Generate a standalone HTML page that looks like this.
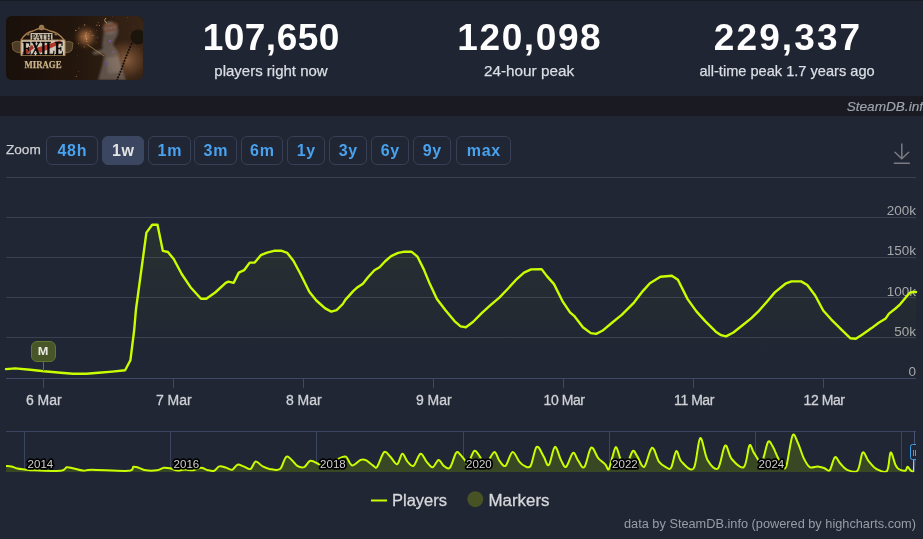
<!DOCTYPE html>
<html><head><meta charset="utf-8">
<style>
*{margin:0;padding:0;box-sizing:border-box}
html,body{width:923px;height:539px;overflow:hidden;background:#202634;font-family:"Liberation Sans",sans-serif}
#top{position:absolute;left:0;top:0;width:923px;height:1px;background:#191c24}
#hdr{position:absolute;left:0;top:1px;width:923px;height:95px;background:#202634}
#img{position:absolute;left:6px;top:16px;width:137px;height:64px;border-radius:6px;overflow:hidden;background:#1a120c}
.stat{position:absolute;top:0;width:258px;text-align:center;color:#fff}
.num{position:absolute;left:0;width:258px;top:18px;font-size:37px;font-weight:bold;line-height:40px;color:#fff}
.lbl{position:absolute;left:0;width:258px;top:62px;font-size:15px;line-height:18px;color:#dcdfe5;-webkit-text-stroke:0.25px #dcdfe5}
#band{position:absolute;left:0;top:96px;width:923px;height:20px;background:#1a1b23}
#sdb{position:absolute;left:846.7px;top:97.5px;font-size:13.6px;font-style:italic;color:#9ea4ae;-webkit-text-stroke:0.2px #9ea4ae;white-space:nowrap;line-height:18px}
#zoom{position:absolute;left:6px;top:141px;font-size:13.6px;color:#d0d2d6;line-height:18px;-webkit-text-stroke:0.25px #d0d2d6}
.btn{position:absolute;top:136px;height:29px;border:1px solid #394156;border-radius:6px;color:#4aa3ee;font-weight:bold;font-size:16px;line-height:28px;text-align:center;letter-spacing:0.7px;text-indent:0.7px}
.btn.sel{background:#3c4762;border-color:#3c4762;color:#e4e4e4}
svg{position:absolute;left:0;top:0}
</style></head><body><div id="wrap" style="position:absolute;left:0;top:0;width:923px;height:539px;will-change:transform;opacity:0.999">
<div id="top"></div>
<div id="hdr"></div>
<div id="img"><svg width="137" height="64" viewBox="0 0 137 64" style="position:absolute;left:0;top:0">
<defs>
<radialGradient id="gl1"><stop offset="0" stop-color="#c08050"/><stop offset="0.45" stop-color="#7a4e2e" stop-opacity="0.85"/><stop offset="1" stop-color="#2a1a10" stop-opacity="0"/></radialGradient>
<radialGradient id="gl2"><stop offset="0" stop-color="#8c6040"/><stop offset="0.6" stop-color="#5a3a24" stop-opacity="0.7"/><stop offset="1" stop-color="#2a1a10" stop-opacity="0"/></radialGradient>
<linearGradient id="bgg" x1="0" y1="0" x2="1" y2="0"><stop offset="0" stop-color="#1a110b"/><stop offset="0.5" stop-color="#24170e"/><stop offset="1" stop-color="#3a2618"/></linearGradient>
<filter id="bl" x="-50%" y="-50%" width="200%" height="200%"><feGaussianBlur stdDeviation="1"/></filter>
<filter id="bl2" x="-50%" y="-50%" width="200%" height="200%"><feGaussianBlur stdDeviation="0.45"/></filter>
</defs>
<rect width="137" height="64" fill="url(#bgg)"/>
<ellipse cx="120" cy="44" rx="26" ry="24" fill="url(#gl2)"/>
<ellipse cx="80" cy="21" rx="14" ry="14" fill="url(#gl1)" opacity="0.9"/>
<circle cx="81.6" cy="28.5" r="0.45" fill="#e0a060" opacity="0.70"/><circle cx="79.4" cy="19.4" r="0.31" fill="#e0a060" opacity="0.82"/><circle cx="80.7" cy="25.4" r="0.70" fill="#e0a060" opacity="0.64"/><circle cx="84.5" cy="15.2" r="0.56" fill="#e0a060" opacity="0.48"/><circle cx="73.0" cy="11.9" r="0.51" fill="#e0a060" opacity="0.77"/><circle cx="80.0" cy="19.1" r="0.60" fill="#e0a060" opacity="0.70"/><circle cx="80.5" cy="22.4" r="0.65" fill="#e0a060" opacity="0.64"/><circle cx="78.6" cy="8.9" r="0.59" fill="#e0a060" opacity="0.86"/><circle cx="72.5" cy="27.6" r="0.48" fill="#e0a060" opacity="0.87"/><circle cx="83.0" cy="19.1" r="0.35" fill="#e0a060" opacity="0.51"/><circle cx="87.3" cy="19.6" r="0.55" fill="#e0a060" opacity="0.55"/><circle cx="75.1" cy="20.7" r="0.44" fill="#e0a060" opacity="0.69"/><circle cx="69.8" cy="14.4" r="0.57" fill="#e0a060" opacity="0.86"/><circle cx="92.4" cy="6.5" r="0.57" fill="#e0a060" opacity="0.48"/><circle cx="90.9" cy="9.1" r="0.66" fill="#e0a060" opacity="0.68"/><circle cx="80.1" cy="17.0" r="0.63" fill="#e0a060" opacity="0.69"/><circle cx="80.5" cy="23.1" r="0.64" fill="#e0a060" opacity="0.89"/><circle cx="90.2" cy="26.7" r="0.46" fill="#e0a060" opacity="0.48"/><circle cx="78.2" cy="30.9" r="0.65" fill="#e0a060" opacity="0.42"/><circle cx="79.6" cy="19.8" r="0.59" fill="#e0a060" opacity="0.57"/><circle cx="93.4" cy="9.5" r="0.50" fill="#e0a060" opacity="0.90"/><circle cx="80.1" cy="23.2" r="0.54" fill="#e0a060" opacity="0.42"/><circle cx="83.2" cy="26.1" r="0.48" fill="#c08a5a" opacity="0.36"/><circle cx="72.8" cy="55.5" r="0.39" fill="#c08a5a" opacity="0.68"/><circle cx="130.1" cy="24.2" r="0.44" fill="#c08a5a" opacity="0.51"/><circle cx="113.1" cy="38.1" r="0.47" fill="#c08a5a" opacity="0.55"/><circle cx="133.0" cy="32.4" r="0.43" fill="#c08a5a" opacity="0.59"/><circle cx="85.9" cy="19.3" r="0.59" fill="#c08a5a" opacity="0.51"/><circle cx="106.7" cy="0.7" r="0.42" fill="#c08a5a" opacity="0.53"/><circle cx="71.3" cy="39.4" r="0.49" fill="#c08a5a" opacity="0.32"/><circle cx="112.0" cy="29.8" r="0.50" fill="#c08a5a" opacity="0.44"/><circle cx="117.4" cy="47.2" r="0.31" fill="#c08a5a" opacity="0.32"/><circle cx="115.3" cy="61.7" r="0.38" fill="#c08a5a" opacity="0.48"/><circle cx="109.7" cy="20.5" r="0.41" fill="#c08a5a" opacity="0.43"/><circle cx="94.7" cy="38.1" r="0.39" fill="#c08a5a" opacity="0.45"/><circle cx="121.7" cy="1.7" r="0.47" fill="#c08a5a" opacity="0.59"/><circle cx="90.8" cy="14.2" r="0.54" fill="#c08a5a" opacity="0.40"/><circle cx="82.6" cy="27.9" r="0.51" fill="#c08a5a" opacity="0.34"/><circle cx="91.6" cy="21.4" r="0.55" fill="#c08a5a" opacity="0.48"/><circle cx="127.3" cy="10.8" r="0.40" fill="#c08a5a" opacity="0.56"/><circle cx="129.3" cy="28.9" r="0.37" fill="#c08a5a" opacity="0.35"/><circle cx="105.5" cy="12.2" r="0.54" fill="#c08a5a" opacity="0.64"/><circle cx="82.3" cy="17.8" r="0.54" fill="#c08a5a" opacity="0.56"/><circle cx="124.0" cy="22.1" r="0.34" fill="#c08a5a" opacity="0.42"/><circle cx="123.2" cy="17.4" r="0.40" fill="#c08a5a" opacity="0.47"/><circle cx="98.1" cy="26.2" r="0.58" fill="#c08a5a" opacity="0.36"/><circle cx="70.3" cy="60.4" r="0.56" fill="#c08a5a" opacity="0.69"/>
<g filter="url(#bl)" opacity="0.62">
<path d="M98 14 Q104 6 111 10 Q114 16 110 22 L107 28 L112 36 L116 52 L120 64 L92 64 L96 50 L98 40 L96 30 Z" fill="#7e746e"/>
<ellipse cx="104" cy="12" rx="7" ry="6.5" fill="#a0968e"/>
<path d="M97 9 L111 7 L112 9.5 L97 12 Z M98 14 L111 12 L110 14.5 L98 16.5 Z" fill="#a85a38"/>
<path d="M100 42 L112 40 L116 56 L102 58 Z" fill="#9a9088"/>
<path d="M98 33 L86 36 L88 39 L100 37 Z" fill="#8a7e76"/>
</g>
<path d="M82 29 L98 40" stroke="#a08050" stroke-width="1" opacity="0.8"/>
<path d="M100 2 Q97 5 101 7" stroke="#c89a50" stroke-width="1" fill="none"/>
<circle cx="132" cy="21" r="7.5" fill="#1c130e" filter="url(#bl2)"/>
<path d="M126 27 Q120 40 116 52 L111 64" stroke="#17100c" stroke-width="1.8" fill="none" stroke-dasharray="2 1"/>
<circle cx="104" cy="25" r="1" fill="#8050c0"/><circle cx="101" cy="48" r="1.2" fill="#7048b0"/><circle cx="107" cy="36" r="0.8" fill="#8a5ac8"/>
<g filter="url(#bl2)">
<path d="M6 27 Q10 24 15 26 L15 37 Q10 37 7 34 Z M67 27 Q63 24 59 26 L59 37 Q64 37 66 34 Z" fill="#4e3c28" stroke="#9a7a50" stroke-width="0.6"/>
<path d="M15 24 Q20 16 27 15 Q35 10 44 15 Q52 16 58 24" fill="none" stroke="#a88050" stroke-width="1.3"/>
<circle cx="35.6" cy="11.5" r="2.4" fill="#9a7448" stroke="#c09a60" stroke-width="0.6"/><circle cx="22" cy="18" r="1.6" fill="#8a6a44"/><circle cx="50" cy="18" r="1.6" fill="#8a6a44"/>
<rect x="24.5" y="17" width="22" height="7.5" fill="#c8bea8"/>
<rect x="15" y="24" width="44" height="15.5" fill="#d2c8b8" stroke="#b08a58" stroke-width="0.9"/>
<path d="M30 32 L54 24.5 L56 27 L34 37 Z" fill="#b02a1c" opacity="0.9"/>
<path d="M16 37 L26 29 L28 32 L20 39 Z" fill="#a02418" opacity="0.9"/>
</g>
<text x="35.6" y="24" font-family="Liberation Serif" font-weight="bold" font-size="8" fill="#120d0a" text-anchor="middle" textLength="20" lengthAdjust="spacingAndGlyphs">PATH</text>
<text x="37" y="38.8" font-family="Liberation Serif" font-weight="bold" font-size="18" fill="#0c0908" stroke="#0c0908" stroke-width="0.5" text-anchor="middle" textLength="41" lengthAdjust="spacingAndGlyphs">EXILE</text>
<text x="37" y="52.3" font-family="Liberation Serif" font-weight="bold" font-size="10.5" fill="#cdb68a" stroke="#cdb68a" stroke-width="0.25" text-anchor="middle" textLength="37" lengthAdjust="spacingAndGlyphs">MIRAGE</text>
</svg></div>
<div class="stat" style="left:142px"><div class="num" style="letter-spacing:0.5px;text-indent:0.5px">107,650</div><div class="lbl">players right now</div></div>
<div class="stat" style="left:400px"><div class="num" style="letter-spacing:1.6px;text-indent:1.6px">120,098</div><div class="lbl" style="font-size:15.3px">24-hour peak</div></div>
<div class="stat" style="left:658px"><div class="num" style="letter-spacing:2.1px;text-indent:2.1px">229,337</div><div class="lbl" style="font-size:14.6px">all-time peak 1.7 years ago</div></div>
<div id="band"></div>
<div id="sdb">SteamDB.info</div>
<div id="zoom">Zoom</div>
<div class="btn" style="left:46px;width:52px">48h</div>
<div class="btn sel" style="left:102px;width:42px">1w</div>
<div class="btn" style="left:148px;width:43px">1m</div>
<div class="btn" style="left:194px;width:43px">3m</div>
<div class="btn" style="left:241px;width:42px">6m</div>
<div class="btn" style="left:287px;width:38px">1y</div>
<div class="btn" style="left:329px;width:38px">3y</div>
<div class="btn" style="left:371px;width:38px">6y</div>
<div class="btn" style="left:413px;width:38px">9y</div>
<div class="btn" style="left:456px;width:55px">max</div>
<svg width="923" height="539" viewBox="0 0 923 539">
<!-- download icon -->
<g stroke="#7c7d82" stroke-width="1.5" fill="none" stroke-linecap="round"><path d="M901.8 144V158.3M895 152.2L901.8 158.8L908.6 152.2"/><path d="M894.4 163.2H909.4"/></g>
<!-- grid -->
<g stroke="#3b4150" stroke-width="1">
<path d="M6 177.5H916M6 217.5H916M6 257.5H916M6 297.5H916M6 337.5H916"/>
</g>
<path d="M6 378.5H916" stroke="#3e4a66" stroke-width="1"/>
<g stroke="#414a62" stroke-width="1"><path d="M43.5 379V388M173.5 379V388M303.5 379V388M433.5 379V388M563.5 379V388M693.5 379V388M823.5 379V388"/></g>
<g font-family="Liberation Sans" font-size="13.5" fill="#a7a8ac" text-anchor="end">
<text x="916" y="296">100k</text><text x="916" y="215.1">200k</text><text x="916" y="255.1">150k</text><text x="916" y="336">50k</text><text x="916" y="376">0</text>
</g>
<g font-family="Liberation Sans" font-size="14" fill="#d0d2d6" stroke="#d0d2d6" stroke-width="0.3" text-anchor="middle">
<text x="43.8" y="405">6 Mar</text><text x="173.8" y="405">7 Mar</text><text x="303.8" y="405">8 Mar</text><text x="433.8" y="405">9 Mar</text><text x="564" y="405" letter-spacing="-0.45">10 Mar</text><text x="694" y="405" letter-spacing="-0.45">11 Mar</text><text x="824" y="405" letter-spacing="-0.45">12 Mar</text>
</g>
<defs><linearGradient id="mg" x1="0" y1="0" x2="0" y2="1"><stop offset="0" stop-color="#caff00" stop-opacity="0.058"/><stop offset="1" stop-color="#caff00" stop-opacity="0"/></linearGradient>
<clipPath id="hclip"><rect x="0" y="0" width="916" height="539"/></clipPath><clipPath id="navclip"><rect x="6" y="431" width="910" height="41.2"/></clipPath></defs>
<path d="M6.0 369.1 L15.2 368.4 L30.3 369.7 L44.0 371.3 L60.7 372.8 L72.8 373.7 L86.5 373.7 L98.6 372.8 L112.2 371.6 L125.1 370.2 L130.4 360.3 L134.2 330.0 L135.9 310.0 L146.4 232.6 L152.2 224.8 L157.5 224.8 L162.8 250.8 L167.9 252.0 L173.7 259.0 L181.7 274.0 L190.5 287.2 L201.0 298.7 L206.3 298.7 L215.2 292.5 L225.7 282.8 L228.4 281.6 L233.7 282.8 L238.8 272.6 L244.1 270.2 L249.7 262.6 L254.7 262.6 L260.8 255.2 L267.0 252.6 L274.0 250.8 L281.1 250.6 L287.3 252.9 L293.4 260.8 L300.5 274.0 L309.3 291.7 L316.3 300.5 L325.2 308.4 L331.3 311.6 L336.6 310.2 L342.8 304.0 L345.3 299.9 L353.2 291.1 L357.6 287.2 L362.9 283.7 L368.2 277.0 L374.4 270.3 L379.6 267.3 L384.9 261.5 L391.1 256.2 L398.1 252.9 L403.4 251.8 L411.4 251.6 L417.5 256.7 L423.7 269.1 L429.9 284.1 L436.9 299.0 L445.7 310.5 L454.5 321.1 L460.6 326.4 L465.9 327.2 L472.9 322.0 L481.7 313.1 L490.5 305.2 L499.3 297.6 L508.1 288.5 L517.0 278.8 L524.0 272.6 L531.1 269.4 L541.6 269.1 L546.9 276.1 L554.0 284.1 L562.8 301.7 L570.0 312.3 L574.1 315.8 L582.9 327.2 L590.8 333.1 L596.1 333.9 L602.3 330.8 L612.9 322.0 L621.7 314.9 L634.0 302.6 L642.8 291.1 L649.9 283.2 L660.4 276.7 L671.9 275.8 L677.9 279.7 L687.6 299.1 L696.4 311.4 L705.2 321.1 L715.8 331.7 L721.1 335.2 L726.0 336.4 L733.4 332.5 L742.2 325.5 L751.1 318.4 L758.1 311.7 L766.9 301.7 L774.8 292.4 L785.4 283.7 L791.5 281.4 L801.1 281.4 L807.3 285.0 L815.2 295.5 L823.2 310.5 L831.1 319.3 L841.7 329.9 L850.5 338.3 L855.8 338.7 L862.8 334.3 L871.6 328.1 L878.7 322.8 L885.7 318.4 L889.0 313.6 L895.5 308.5 L900.1 304.3 L904.7 298.8 L909.8 292.7 L913.1 292.0 L916.0 292.0 L916 378 L6 378 Z" fill="url(#mg)"/>
<path d="M6.0 369.1 L15.2 368.4 L30.3 369.7 L44.0 371.3 L60.7 372.8 L72.8 373.7 L86.5 373.7 L98.6 372.8 L112.2 371.6 L125.1 370.2 L130.4 360.3 L134.2 330.0 L135.9 310.0 L146.4 232.6 L152.2 224.8 L157.5 224.8 L162.8 250.8 L167.9 252.0 L173.7 259.0 L181.7 274.0 L190.5 287.2 L201.0 298.7 L206.3 298.7 L215.2 292.5 L225.7 282.8 L228.4 281.6 L233.7 282.8 L238.8 272.6 L244.1 270.2 L249.7 262.6 L254.7 262.6 L260.8 255.2 L267.0 252.6 L274.0 250.8 L281.1 250.6 L287.3 252.9 L293.4 260.8 L300.5 274.0 L309.3 291.7 L316.3 300.5 L325.2 308.4 L331.3 311.6 L336.6 310.2 L342.8 304.0 L345.3 299.9 L353.2 291.1 L357.6 287.2 L362.9 283.7 L368.2 277.0 L374.4 270.3 L379.6 267.3 L384.9 261.5 L391.1 256.2 L398.1 252.9 L403.4 251.8 L411.4 251.6 L417.5 256.7 L423.7 269.1 L429.9 284.1 L436.9 299.0 L445.7 310.5 L454.5 321.1 L460.6 326.4 L465.9 327.2 L472.9 322.0 L481.7 313.1 L490.5 305.2 L499.3 297.6 L508.1 288.5 L517.0 278.8 L524.0 272.6 L531.1 269.4 L541.6 269.1 L546.9 276.1 L554.0 284.1 L562.8 301.7 L570.0 312.3 L574.1 315.8 L582.9 327.2 L590.8 333.1 L596.1 333.9 L602.3 330.8 L612.9 322.0 L621.7 314.9 L634.0 302.6 L642.8 291.1 L649.9 283.2 L660.4 276.7 L671.9 275.8 L677.9 279.7 L687.6 299.1 L696.4 311.4 L705.2 321.1 L715.8 331.7 L721.1 335.2 L726.0 336.4 L733.4 332.5 L742.2 325.5 L751.1 318.4 L758.1 311.7 L766.9 301.7 L774.8 292.4 L785.4 283.7 L791.5 281.4 L801.1 281.4 L807.3 285.0 L815.2 295.5 L823.2 310.5 L831.1 319.3 L841.7 329.9 L850.5 338.3 L855.8 338.7 L862.8 334.3 L871.6 328.1 L878.7 322.8 L885.7 318.4 L889.0 313.6 L895.5 308.5 L900.1 304.3 L904.7 298.8 L909.8 292.7 L913.1 292.0 L916.0 292.0" fill="none" stroke="#caff00" stroke-width="2.4" stroke-linejoin="round" stroke-linecap="round"/>
<!-- marker -->
<path d="M43.5 362V371" stroke="#627a26" stroke-width="1"/>
<rect x="31.5" y="341.5" width="24" height="20" rx="5.5" fill="#49562a" stroke="#62782a" stroke-width="1"/>
<text x="37.8" y="355.3" font-family="Liberation Sans" font-weight="bold" font-size="11.2" fill="#eaebe4" textLength="10.6" lengthAdjust="spacingAndGlyphs">M</text>
<!-- navigator -->
<path d="M6 431.5H916" stroke="#3c4660" stroke-width="1"/>
<g stroke="#3c4660" stroke-width="1"><path d="M24.5 431V472M170.5 431V472M316.5 431V472M463.5 431V472M609.5 431V472M755.5 431V472M901.5 431V472"/></g>
<g clip-path="url(#navclip)">
<path d="M6.0 465.9 C6.9 466.0 9.4 466.0 11.3 466.4 C13.2 466.8 15.1 468.0 17.3 468.5 C19.5 469.0 21.4 469.1 24.3 469.4 C27.2 469.7 28.6 470.1 34.7 470.3 C40.8 470.5 55.4 471.3 60.7 470.8 C66.0 470.3 64.7 467.7 66.7 467.3 C68.7 466.9 70.0 467.6 72.8 468.2 C75.5 468.8 80.0 470.4 83.2 470.6 C86.4 470.9 84.4 469.7 91.9 469.7 C99.4 469.7 121.3 471.3 128.2 470.8 C135.1 470.3 131.7 467.3 133.4 466.8 C135.1 466.3 136.6 467.1 138.6 467.7 C140.6 468.3 142.5 469.9 145.6 470.3 C148.7 470.7 153.8 470.7 156.9 470.3 C160.0 469.9 161.6 468.0 163.9 467.7 C166.2 467.4 168.5 468.0 170.8 468.5 C173.1 469.0 175.3 470.4 177.7 470.6 C180.1 470.8 182.4 469.6 185.0 469.5 C187.6 469.4 190.6 470.6 193.3 470.3 C196.0 470.0 198.8 467.8 201.1 467.7 C203.4 467.6 205.0 469.4 207.2 469.9 C209.4 470.4 212.1 471.4 214.1 470.8 C216.1 470.2 217.3 466.9 219.3 466.4 C221.3 465.9 224.1 467.1 226.3 467.7 C228.5 468.2 230.4 470.2 232.3 469.7 C234.2 469.2 235.6 465.2 237.5 464.7 C239.4 464.1 241.4 465.7 243.6 466.4 C245.8 467.1 248.5 469.8 250.5 469.0 C252.5 468.2 253.7 462.0 255.7 461.6 C257.7 461.2 260.4 465.2 262.7 466.4 C265.0 467.6 266.7 468.5 269.6 468.9 C272.5 469.3 277.1 471.1 280.0 469.0 C282.9 466.9 284.0 456.9 286.9 456.4 C289.8 455.9 294.4 464.1 297.3 465.9 C300.2 467.7 302.0 468.0 304.2 467.1 C306.4 466.2 307.9 461.2 310.4 460.7 C312.9 460.2 316.7 463.3 319.1 464.2 C321.5 465.1 322.9 466.4 325.0 466.0 C327.1 465.6 329.8 463.2 332.0 462.0 C334.2 460.8 335.7 459.9 338.0 459.0 C340.3 458.1 343.6 455.6 345.9 456.7 C348.2 457.8 349.5 464.9 352.0 465.4 C354.5 465.9 358.4 460.8 360.7 459.9 C363.0 459.0 363.9 459.3 365.9 460.2 C367.9 461.1 370.9 464.3 372.8 465.4 C374.7 466.5 375.2 469.0 377.1 466.8 C379.0 464.6 381.9 453.8 384.1 452.1 C386.3 450.4 387.9 454.4 390.1 456.4 C392.3 458.4 395.1 464.6 397.1 464.2 C399.1 463.8 400.6 454.2 402.3 453.8 C404.0 453.4 405.6 459.6 407.5 461.6 C409.4 463.6 411.3 467.2 413.5 465.9 C415.7 464.6 418.3 454.5 420.5 453.8 C422.7 453.1 424.5 459.4 426.5 461.6 C428.5 463.9 430.6 467.6 432.6 467.3 C434.6 467.0 436.7 460.1 438.6 459.9 C440.5 459.7 441.9 464.6 443.8 465.9 C445.7 467.2 447.8 469.9 449.9 467.7 C451.9 465.5 454.4 455.1 456.1 452.9 C457.9 450.7 459.0 453.5 460.4 454.7 C461.8 455.9 463.4 458.3 464.7 459.9 C466.0 461.4 466.4 465.5 468.0 464.0 C469.6 462.5 472.2 451.9 474.3 450.8 C476.4 449.7 478.4 455.1 480.3 457.3 C482.2 459.5 483.7 464.9 486.0 464.0 C488.3 463.1 492.0 452.7 494.2 452.1 C496.4 451.6 497.5 458.4 499.4 460.7 C501.3 463.0 503.3 467.3 505.5 465.9 C507.7 464.5 510.1 452.8 512.4 452.1 C514.7 451.4 517.3 459.3 519.3 461.6 C521.3 463.9 522.6 465.2 524.5 465.9 C526.4 466.6 528.6 469.1 530.6 465.9 C532.6 462.7 534.5 448.5 536.7 446.9 C538.9 445.3 541.6 453.4 543.6 456.4 C545.6 459.4 546.9 466.7 548.8 465.1 C550.7 463.5 552.9 447.8 554.9 446.9 C556.9 446.0 559.0 456.6 560.9 459.9 C562.8 463.2 564.1 468.0 566.1 466.8 C568.1 465.6 571.0 453.9 573.0 452.9 C575.0 451.9 576.3 458.3 578.2 460.7 C580.1 463.1 582.1 469.3 584.3 467.1 C586.5 464.9 588.9 449.2 591.2 447.7 C593.5 446.2 595.9 455.4 598.2 458.1 C600.5 460.9 603.4 462.3 605.1 464.2 C606.9 466.1 607.5 470.4 608.7 469.4 C609.9 468.4 610.9 461.9 612.1 458.1 C613.3 454.4 614.6 447.0 615.9 446.9 C617.2 446.8 618.5 454.1 619.9 457.3 C621.2 460.5 622.6 465.2 624.0 466.0 C625.4 466.8 626.5 464.5 628.0 462.0 C629.5 459.5 631.4 451.7 632.9 450.8 C634.4 449.9 635.4 453.7 637.3 456.4 C639.2 459.1 641.8 468.2 644.2 466.8 C646.7 465.4 649.5 448.6 652.0 447.7 C654.5 446.8 656.6 458.4 658.9 461.6 C661.2 464.8 663.9 466.1 665.9 467.1 C667.9 468.1 669.4 470.4 671.1 467.7 C672.8 465.0 674.6 452.2 676.3 451.2 C678.0 450.2 678.6 458.7 681.5 461.6 C684.4 464.5 690.5 472.4 693.6 468.5 C696.7 464.6 697.9 439.6 700.2 438.2 C702.5 436.8 704.5 454.8 707.5 459.9 C710.5 464.9 715.0 470.9 717.9 468.5 C720.8 466.1 722.8 447.2 725.1 445.6 C727.4 444.0 728.6 455.4 731.7 459.0 C734.8 462.6 740.8 469.3 743.8 467.1 C746.8 464.9 747.8 448.1 749.4 445.6 C751.0 443.1 752.1 449.9 753.5 452.1 C754.9 454.3 756.5 456.9 757.8 459.0 C759.0 461.1 760.0 465.4 761.0 465.0 C762.0 464.6 762.7 460.3 763.9 456.4 C765.1 452.5 766.8 443.4 768.2 441.7 C769.6 440.0 770.9 443.4 772.5 446.0 C774.1 448.6 776.1 454.0 777.7 457.3 C779.3 460.6 780.5 464.6 782.0 466.0 C783.5 467.4 784.6 471.0 786.4 465.9 C788.1 460.8 790.6 439.5 792.5 435.6 C794.4 431.7 795.8 438.8 797.7 442.5 C799.6 446.2 801.7 454.0 803.7 458.1 C805.7 462.2 807.5 465.7 809.8 467.1 C812.1 468.5 815.1 466.2 817.6 466.4 C820.1 466.6 822.5 467.5 824.5 468.2 C826.5 468.9 828.0 472.1 829.7 470.3 C831.4 468.5 833.2 458.5 834.9 457.3 C836.6 456.1 838.1 461.2 840.1 463.3 C842.1 465.4 844.2 468.7 847.1 469.9 C850.0 471.1 854.9 473.5 857.5 470.6 C860.1 467.7 860.9 454.2 862.7 452.6 C864.6 451.0 866.3 458.5 868.6 461.2 C870.9 463.9 873.4 467.4 876.4 469.0 C879.4 470.6 884.5 473.8 886.9 471.0 C889.3 468.2 889.2 453.6 890.6 452.5 C892.0 451.4 894.0 461.8 895.3 464.5 C896.6 467.2 896.9 468.0 898.6 469.0 C900.3 470.0 903.8 471.1 905.3 470.7 C906.8 470.3 906.6 466.8 907.5 466.8 C908.4 466.8 909.9 470.1 910.9 470.7 C911.9 471.3 913.2 472.5 913.7 470.7 C914.2 468.9 914.1 461.8 914.2 460.0 L914.2 472 L6 472 Z" fill="#394825"/>
<path d="M6.0 465.9 C6.9 466.0 9.4 466.0 11.3 466.4 C13.2 466.8 15.1 468.0 17.3 468.5 C19.5 469.0 21.4 469.1 24.3 469.4 C27.2 469.7 28.6 470.1 34.7 470.3 C40.8 470.5 55.4 471.3 60.7 470.8 C66.0 470.3 64.7 467.7 66.7 467.3 C68.7 466.9 70.0 467.6 72.8 468.2 C75.5 468.8 80.0 470.4 83.2 470.6 C86.4 470.9 84.4 469.7 91.9 469.7 C99.4 469.7 121.3 471.3 128.2 470.8 C135.1 470.3 131.7 467.3 133.4 466.8 C135.1 466.3 136.6 467.1 138.6 467.7 C140.6 468.3 142.5 469.9 145.6 470.3 C148.7 470.7 153.8 470.7 156.9 470.3 C160.0 469.9 161.6 468.0 163.9 467.7 C166.2 467.4 168.5 468.0 170.8 468.5 C173.1 469.0 175.3 470.4 177.7 470.6 C180.1 470.8 182.4 469.6 185.0 469.5 C187.6 469.4 190.6 470.6 193.3 470.3 C196.0 470.0 198.8 467.8 201.1 467.7 C203.4 467.6 205.0 469.4 207.2 469.9 C209.4 470.4 212.1 471.4 214.1 470.8 C216.1 470.2 217.3 466.9 219.3 466.4 C221.3 465.9 224.1 467.1 226.3 467.7 C228.5 468.2 230.4 470.2 232.3 469.7 C234.2 469.2 235.6 465.2 237.5 464.7 C239.4 464.1 241.4 465.7 243.6 466.4 C245.8 467.1 248.5 469.8 250.5 469.0 C252.5 468.2 253.7 462.0 255.7 461.6 C257.7 461.2 260.4 465.2 262.7 466.4 C265.0 467.6 266.7 468.5 269.6 468.9 C272.5 469.3 277.1 471.1 280.0 469.0 C282.9 466.9 284.0 456.9 286.9 456.4 C289.8 455.9 294.4 464.1 297.3 465.9 C300.2 467.7 302.0 468.0 304.2 467.1 C306.4 466.2 307.9 461.2 310.4 460.7 C312.9 460.2 316.7 463.3 319.1 464.2 C321.5 465.1 322.9 466.4 325.0 466.0 C327.1 465.6 329.8 463.2 332.0 462.0 C334.2 460.8 335.7 459.9 338.0 459.0 C340.3 458.1 343.6 455.6 345.9 456.7 C348.2 457.8 349.5 464.9 352.0 465.4 C354.5 465.9 358.4 460.8 360.7 459.9 C363.0 459.0 363.9 459.3 365.9 460.2 C367.9 461.1 370.9 464.3 372.8 465.4 C374.7 466.5 375.2 469.0 377.1 466.8 C379.0 464.6 381.9 453.8 384.1 452.1 C386.3 450.4 387.9 454.4 390.1 456.4 C392.3 458.4 395.1 464.6 397.1 464.2 C399.1 463.8 400.6 454.2 402.3 453.8 C404.0 453.4 405.6 459.6 407.5 461.6 C409.4 463.6 411.3 467.2 413.5 465.9 C415.7 464.6 418.3 454.5 420.5 453.8 C422.7 453.1 424.5 459.4 426.5 461.6 C428.5 463.9 430.6 467.6 432.6 467.3 C434.6 467.0 436.7 460.1 438.6 459.9 C440.5 459.7 441.9 464.6 443.8 465.9 C445.7 467.2 447.8 469.9 449.9 467.7 C451.9 465.5 454.4 455.1 456.1 452.9 C457.9 450.7 459.0 453.5 460.4 454.7 C461.8 455.9 463.4 458.3 464.7 459.9 C466.0 461.4 466.4 465.5 468.0 464.0 C469.6 462.5 472.2 451.9 474.3 450.8 C476.4 449.7 478.4 455.1 480.3 457.3 C482.2 459.5 483.7 464.9 486.0 464.0 C488.3 463.1 492.0 452.7 494.2 452.1 C496.4 451.6 497.5 458.4 499.4 460.7 C501.3 463.0 503.3 467.3 505.5 465.9 C507.7 464.5 510.1 452.8 512.4 452.1 C514.7 451.4 517.3 459.3 519.3 461.6 C521.3 463.9 522.6 465.2 524.5 465.9 C526.4 466.6 528.6 469.1 530.6 465.9 C532.6 462.7 534.5 448.5 536.7 446.9 C538.9 445.3 541.6 453.4 543.6 456.4 C545.6 459.4 546.9 466.7 548.8 465.1 C550.7 463.5 552.9 447.8 554.9 446.9 C556.9 446.0 559.0 456.6 560.9 459.9 C562.8 463.2 564.1 468.0 566.1 466.8 C568.1 465.6 571.0 453.9 573.0 452.9 C575.0 451.9 576.3 458.3 578.2 460.7 C580.1 463.1 582.1 469.3 584.3 467.1 C586.5 464.9 588.9 449.2 591.2 447.7 C593.5 446.2 595.9 455.4 598.2 458.1 C600.5 460.9 603.4 462.3 605.1 464.2 C606.9 466.1 607.5 470.4 608.7 469.4 C609.9 468.4 610.9 461.9 612.1 458.1 C613.3 454.4 614.6 447.0 615.9 446.9 C617.2 446.8 618.5 454.1 619.9 457.3 C621.2 460.5 622.6 465.2 624.0 466.0 C625.4 466.8 626.5 464.5 628.0 462.0 C629.5 459.5 631.4 451.7 632.9 450.8 C634.4 449.9 635.4 453.7 637.3 456.4 C639.2 459.1 641.8 468.2 644.2 466.8 C646.7 465.4 649.5 448.6 652.0 447.7 C654.5 446.8 656.6 458.4 658.9 461.6 C661.2 464.8 663.9 466.1 665.9 467.1 C667.9 468.1 669.4 470.4 671.1 467.7 C672.8 465.0 674.6 452.2 676.3 451.2 C678.0 450.2 678.6 458.7 681.5 461.6 C684.4 464.5 690.5 472.4 693.6 468.5 C696.7 464.6 697.9 439.6 700.2 438.2 C702.5 436.8 704.5 454.8 707.5 459.9 C710.5 464.9 715.0 470.9 717.9 468.5 C720.8 466.1 722.8 447.2 725.1 445.6 C727.4 444.0 728.6 455.4 731.7 459.0 C734.8 462.6 740.8 469.3 743.8 467.1 C746.8 464.9 747.8 448.1 749.4 445.6 C751.0 443.1 752.1 449.9 753.5 452.1 C754.9 454.3 756.5 456.9 757.8 459.0 C759.0 461.1 760.0 465.4 761.0 465.0 C762.0 464.6 762.7 460.3 763.9 456.4 C765.1 452.5 766.8 443.4 768.2 441.7 C769.6 440.0 770.9 443.4 772.5 446.0 C774.1 448.6 776.1 454.0 777.7 457.3 C779.3 460.6 780.5 464.6 782.0 466.0 C783.5 467.4 784.6 471.0 786.4 465.9 C788.1 460.8 790.6 439.5 792.5 435.6 C794.4 431.7 795.8 438.8 797.7 442.5 C799.6 446.2 801.7 454.0 803.7 458.1 C805.7 462.2 807.5 465.7 809.8 467.1 C812.1 468.5 815.1 466.2 817.6 466.4 C820.1 466.6 822.5 467.5 824.5 468.2 C826.5 468.9 828.0 472.1 829.7 470.3 C831.4 468.5 833.2 458.5 834.9 457.3 C836.6 456.1 838.1 461.2 840.1 463.3 C842.1 465.4 844.2 468.7 847.1 469.9 C850.0 471.1 854.9 473.5 857.5 470.6 C860.1 467.7 860.9 454.2 862.7 452.6 C864.6 451.0 866.3 458.5 868.6 461.2 C870.9 463.9 873.4 467.4 876.4 469.0 C879.4 470.6 884.5 473.8 886.9 471.0 C889.3 468.2 889.2 453.6 890.6 452.5 C892.0 451.4 894.0 461.8 895.3 464.5 C896.6 467.2 896.9 468.0 898.6 469.0 C900.3 470.0 903.8 471.1 905.3 470.7 C906.8 470.3 906.6 466.8 907.5 466.8 C908.4 466.8 909.9 470.1 910.9 470.7 C911.9 471.3 913.2 472.5 913.7 470.7 C914.2 468.9 914.1 461.8 914.2 460.0" fill="none" stroke="#caff00" stroke-width="2" stroke-linejoin="round"/>
</g>
<g font-family="Liberation Sans" font-size="11.5" letter-spacing="0.05" fill="#cfcfcf" stroke="#000" stroke-width="3.6" stroke-linejoin="round" paint-order="stroke">
<text x="27.5" y="468">2014</text><text x="173.5" y="468">2016</text><text x="320" y="468">2018</text><text x="466" y="468">2020</text><text x="612" y="468">2022</text><text x="758.5" y="468">2024</text>
</g>
<path d="M914.5 431V472" stroke="#4a5575" stroke-width="1"/>
<g clip-path="url(#hclip)"><rect x="910.5" y="444.5" width="9" height="15" rx="2" fill="#202634" stroke="#3fa0ea" stroke-width="1"/>
<path d="M913.5 450V456M915.5 450V456" stroke="#3fa0ea" stroke-width="1"/></g>
<!-- legend -->
<path d="M371 500.5H387" stroke="#caff00" stroke-width="2"/>
<text x="392" y="506" font-family="Liberation Sans" font-size="16.5" fill="#d8d9dc" stroke="#d8d9dc" stroke-width="0.3">Players</text>
<circle cx="475.3" cy="499.2" r="8" fill="#485426"/>
<text x="488.5" y="506" font-family="Liberation Sans" font-size="16.9" fill="#d8d9dc" stroke="#d8d9dc" stroke-width="0.3">Markers</text>
<text x="916" y="528" font-family="Liberation Sans" font-size="12.75" fill="#9a9ea6" text-anchor="end">data by SteamDB.info (powered by highcharts.com)</text>
</svg>
</div></body></html>
